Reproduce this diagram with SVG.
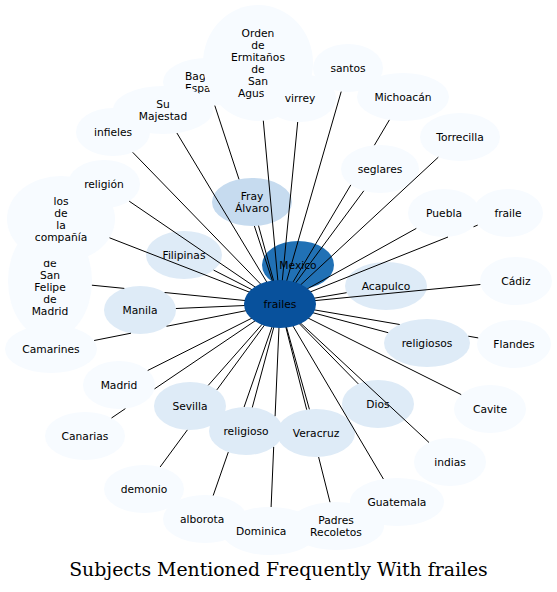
<svg xmlns="http://www.w3.org/2000/svg" width="557" height="592" viewBox="0 0 557 592">
<style>
.l{fill:#f7fbff}
.m{fill:#deebf7}
.d{fill:#c6dbef}
.mx{fill:#2171b5}
.fr{fill:#08519c}
text{font-family:"DejaVu Sans","Liberation Sans",sans-serif;font-size:10.7px;fill:#000;text-anchor:middle}
text.s{text-anchor:start}
.e{stroke:#000;stroke-width:1;fill:none}
.title{font-family:"DejaVu Serif","Liberation Serif",serif;font-size:18.85px}
</style>
<rect width="557" height="592" fill="#fff"/>
<g id="nodes">
<g id="n-mexico"><ellipse class="mx" cx="298" cy="265" rx="36" ry="24"/><text x="298" y="268.5">Mexico</text></g>
<g id="n-acapulco"><ellipse class="m" cx="386" cy="286" rx="41" ry="24"/><text x="386" y="289.5">Acapulco</text></g>
<g id="n-alborota"><ellipse class="l" cx="205" cy="519" rx="42" ry="24"/><text class="s" x="180" y="522.5">alborota</text></g>
<g id="n-bag"><ellipse class="l" cx="207" cy="82" rx="44" ry="24"/><text class="s" x="185" y="79.5">Bag</text><text class="s" x="185" y="91.5">Espa</text></g>
<g id="n-cadiz"><ellipse class="l" cx="516" cy="281" rx="36" ry="24"/><text x="516" y="284.5">Cádiz</text></g>
<g id="n-camarines"><ellipse class="l" cx="51" cy="349" rx="46" ry="24"/><text x="51" y="352.5">Camarines</text></g>
<g id="n-canarias"><ellipse class="l" cx="85" cy="436" rx="40" ry="24"/><text x="85" y="439.5">Canarias</text></g>
<g id="n-cavite"><ellipse class="l" cx="490" cy="409" rx="36" ry="24"/><text x="490" y="412.5">Cavite</text></g>
<g id="n-sanfelipe"><ellipse class="l" cx="50" cy="281" rx="42" ry="58"/><text x="50" y="266.5">de</text><text x="50" y="278.5">San</text><text x="50" y="290.5">Felipe</text><text x="50" y="302.5">de</text><text x="50" y="314.5">Madrid</text></g>
<g id="n-demonio"><ellipse class="l" cx="144" cy="489" rx="40" ry="24"/><text x="144" y="492.5">demonio</text></g>
<g id="n-dios"><ellipse class="m" cx="378" cy="404" rx="36" ry="24"/><text x="378" y="407.5">Dios</text></g>
<g id="n-dominica"><ellipse class="l" cx="270" cy="531" rx="48" ry="24"/><text class="s" x="236" y="534.5">Dominica</text></g>
<g id="n-filipinas"><ellipse class="m" cx="184" cy="255" rx="38" ry="24"/><text x="184" y="258.5">Filipinas</text></g>
<g id="n-flandes"><ellipse class="l" cx="514" cy="344" rx="37" ry="24"/><text x="514" y="347.5">Flandes</text></g>
<g id="n-fraile"><ellipse class="l" cx="508" cy="213" rx="35" ry="24"/><text x="508" y="216.5">fraile</text></g>
<g id="n-fray-alvaro"><ellipse class="d" cx="252" cy="202" rx="40" ry="24"/><text x="252" y="199.5">Fray</text><text x="252" y="211.5">Álvaro</text></g>
<g id="n-guatemala"><ellipse class="l" cx="397" cy="502" rx="47" ry="24"/><text x="397" y="505.5">Guatemala</text></g>
<g id="n-indias"><ellipse class="l" cx="450" cy="462" rx="36" ry="24"/><text x="450" y="465.5">indias</text></g>
<g id="n-infieles"><ellipse class="l" cx="113" cy="132" rx="37" ry="24"/><text x="113" y="135.5">infieles</text></g>
<g id="n-compania"><ellipse class="l" cx="61" cy="219" rx="54" ry="43"/><text x="61" y="204.5">los</text><text x="61" y="216.5">de</text><text x="61" y="228.5">la</text><text x="61" y="240.5">compañía</text></g>
<g id="n-madrid"><ellipse class="l" cx="119" cy="385" rx="36" ry="24"/><text x="119" y="388.5">Madrid</text></g>
<g id="n-manila"><ellipse class="m" cx="140" cy="310" rx="36" ry="24"/><text x="140" y="313.5">Manila</text></g>
<g id="n-michoacan"><ellipse class="l" cx="403" cy="97" rx="46" ry="24"/><text x="403" y="100.5">Michoacán</text></g>
<g id="n-orden"><ellipse class="l" cx="258" cy="63" rx="55" ry="58"/><text x="258" y="36.5">Orden</text><text x="258" y="48.5">de</text><text x="258" y="60.5">Ermitaños</text><text x="258" y="72.5">de</text><text x="258" y="84.5">San</text><text class="s" x="238" y="96.5">Agus</text></g>
<g id="n-padres"><ellipse class="l" cx="336" cy="526" rx="48" ry="24"/><text x="336" y="523.5">Padres</text><text x="336" y="535.5">Recoletos</text></g>
<g id="n-puebla"><ellipse class="l" cx="444" cy="213" rx="36" ry="24"/><text x="444" y="216.5">Puebla</text></g>
<g id="n-religion"><ellipse class="l" cx="104" cy="184" rx="36" ry="24"/><text x="104" y="187.5">religión</text></g>
<g id="n-religioso"><ellipse class="m" cx="246" cy="431" rx="37" ry="24"/><text x="246" y="434.5">religioso</text></g>
<g id="n-religiosos"><ellipse class="m" cx="427" cy="343" rx="43" ry="24"/><text x="427" y="346.5">religiosos</text></g>
<g id="n-santos"><ellipse class="l" cx="348" cy="68" rx="35" ry="24"/><text x="348" y="71.5">santos</text></g>
<g id="n-seglares"><ellipse class="l" cx="380" cy="169" rx="39" ry="24"/><text x="380" y="172.5">seglares</text></g>
<g id="n-sevilla"><ellipse class="m" cx="190" cy="406" rx="36" ry="24"/><text x="190" y="409.5">Sevilla</text></g>
<g id="n-su-majestad"><ellipse class="l" cx="163" cy="110" rx="50" ry="24"/><text x="163" y="107.5">Su</text><text x="163" y="119.5">Majestad</text></g>
<g id="n-torrecilla"><ellipse class="l" cx="460" cy="137" rx="40" ry="24"/><text x="460" y="140.5">Torrecilla</text></g>
<g id="n-veracruz"><ellipse class="m" cx="316" cy="433" rx="39" ry="24"/><text x="316" y="436.5">Veracruz</text></g>
<g id="n-virrey"><ellipse class="l" cx="300" cy="98" rx="36" ry="24"/><text x="300" y="101.5">virrey</text></g>
</g>
<g id="connectors" class="e">
<path d="M280,304L258.5,225.7"/>
<path d="M280,304L213.6,270.1"/>
<path d="M280,304L175.9,308.5"/>
<path d="M280,304L346.6,292.7"/>
<path d="M280,304L388.2,332.7"/>
<path d="M280,304L358.3,383.9"/>
<path d="M280,304L309.4,409.3"/>
<path d="M280,304L252.3,407.4"/>
<path d="M280,304L208.3,385.3"/>
<path d="M280,304L147.7,370.5"/>
<path d="M280,304L154.5,388.9M125.4,408.6L111.5,418"/>
<path d="M280,304L216.8,389.9M187.4,429.9L160.1,467"/>
<path d="M280,304L244.1,407M228.3,452.1L213.2,495.5"/>
<path d="M280,304L275.1,416.2M273.7,446.9L271.1,507"/>
<path d="M280,304L306.7,409.7M318.6,457L330,502.2"/>
<path d="M280,304L383.4,479"/>
<path d="M280,304L429,442.5"/>
<path d="M280,304L461.2,394.6"/>
<path d="M280,304L399.7,324.5M468.3,336.2L478.2,337.9"/>
<path d="M280,304L480.4,284.5"/>
<path d="M280,304L448,237M473.5,226.8L477.7,225.1"/>
<path d="M280,304L416.3,228.4"/>
<path d="M280,304L363.8,190.8"/>
<path d="M280,304L350.8,184.9M374.4,145.2L389.4,119.9"/>
<path d="M280,304L438.3,157.2"/>
<path d="M280,304L341.2,91.6"/>
<path d="M280,304L297.7,122"/>
<path d="M280,304L263.3,120.7"/>
<path d="M280,304L254.4,226M239,179.3L214.8,105.6"/>
<path d="M280,304L176.9,133"/>
<path d="M280,304L132.7,152.3"/>
<path d="M280,304L129.2,201.2"/>
<path d="M280,304L109.5,237.8"/>
<path d="M280,304L164.6,292.5M124.3,288.4L91.9,285.2"/>
<path d="M280,304L166.5,326.3M131,333.2L94.1,340.5"/>
</g>
<g id="n-frailes"><ellipse class="fr" cx="280" cy="304" rx="36" ry="24"/><text x="280" y="307.5">frailes</text></g>
<text class="title" x="278.5" y="576">Subjects Mentioned Frequently With frailes</text>
</svg>
